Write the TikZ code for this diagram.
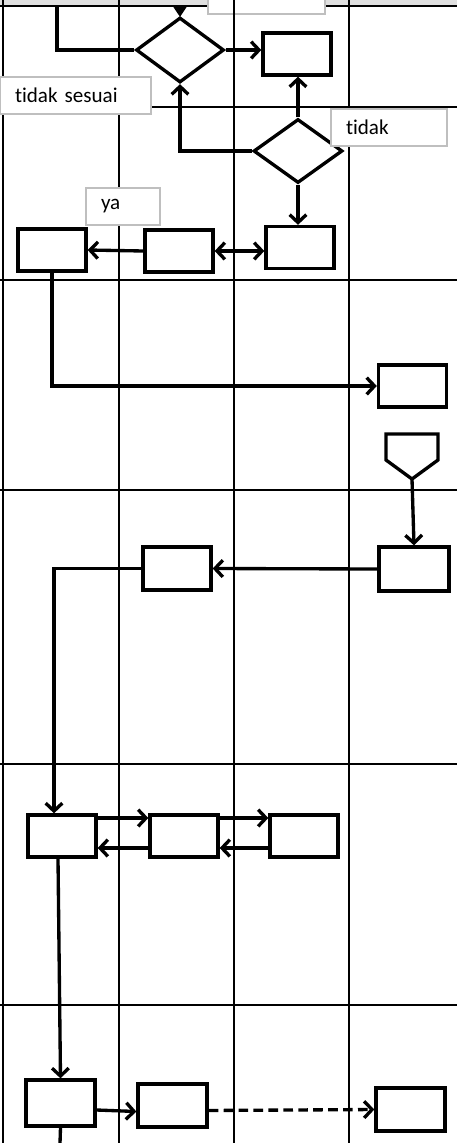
\documentclass[tikz,border=0pt]{standalone}
\usepackage{fontspec}
\setmainfont[Ligatures={NoCommon,NoRare,NoContextual}]{Carlito}
\usepackage{tikz}
\usetikzlibrary{arrows.meta, shapes.geometric, calc}
\tikzset{>={Straight Barb[length=4.5pt,width=9.5pt]}}

\begin{document}
\begin{tikzpicture}[x=0.02cm, y=-0.02cm, line width=1.9pt,
    box/.style={draw, rectangle, minimum width=1.36cm, minimum height=0.84cm, inner sep=0pt},
    cek/.style={draw, diamond, inner sep=0pt, minimum width=1.76cm, minimum height=1.3cm},
    lane/.style={line width=1.2pt},
    lbl/.style={draw=black!25, line width=0.6pt, fill=white, inner xsep=0.3cm, inner ysep=0pt,
      minimum height=0.74cm, align=left, font=\fontsize{12}{14}\selectfont}]
  \useasboundingbox (0,0) rectangle (457,1143);
  % arrow coming in from the previous page
  \draw[-{Triangle[length=0.24cm,width=0.3cm]}] (180,-20) -- (180,17);
  % header band and lanes
  \fill[black!12] (0,0) rectangle (457,6);
  \draw[lane] (0,6) -- (457,6);
  \node[lbl, minimum width=2.34cm] (lblatas) at (266.5,-4.5) {};
  \foreach \x in {3,119,234,349} \draw[lane] (\x,0) -- (\x,1143);
  \foreach \y in {107,280,490,764,1005} \draw[lane] (0,\y) -- (457,\y);

  % decisions
  \node[cek] (d1) at (180,50) {};
  \node[cek, minimum width=1.78cm, minimum height=1.28cm] (d2) at (298,151) {};
  % processes
  \node[box] (r1) at (297,54) {};
  \node[box] (r2) at (300,247.5) {};
  \node[box] (r3) at (179,251) {};
  \node[box] (r4) at (52,250) {};
  \node[box] (r5) at (412.5,386) {};
  \node[box, minimum width=1.4cm, minimum height=0.88cm] (r6) at (414,569) {};
  \node[box, minimum height=0.86cm] (r7) at (177,568.5) {};
  \node[box] (r8) at (62,836) {};
  \node[box] (r9) at (184,836) {};
  \node[box] (r10) at (304,836) {};
  \node[box, minimum width=1.38cm, minimum height=0.92cm] (r11) at (60.5,1103) {};
  \node[box, minimum width=1.38cm, minimum height=0.86cm] (r12) at (172.5,1105.5) {};
  \node[box, minimum width=1.38cm, minimum height=0.86cm] (r13) at (410.5,1109.5) {};
  % off-page connector
  \draw (386,434) -- (438,434) -- (438,460) -- (412,479) -- (386,460) -- cycle;
  \coordinate (hal) at (412,479);

  % connectors
  \draw (57,6) |- (d1.west);
  \draw[->] (d1.east) -- (d1.east -| r1.west);
  \draw[->] (d2.north) -- (d2.north |- r1.south);
  \draw[->] (d2.west) -| (d1.south);
  \draw[->] (d2.south) -- (d2.south |- r2.north);
  \draw[<->] (r3.east) -- (r3.east -| r2.west);
  \draw[->] (r3.west) -- (r4.east);
  \draw[->] (r4.south) |- (r5.west);
  \draw[->] (hal) -- (r6.north);
  \draw[->] (r6.west) -- (r7.east);
  \draw[->] (r7.west) -| ([xshift=-0.16cm]r8.north);
  \draw[->] ([yshift=0.36cm]r8.east) -- ([yshift=0.36cm]r9.west);
  \draw[->] ([yshift=-0.24cm]r9.west) -- ([yshift=-0.24cm]r8.east);
  \draw[->] ([yshift=0.36cm]r9.east) -- ([yshift=0.36cm]r10.west);
  \draw[->] ([yshift=-0.24cm]r10.west) -- ([yshift=-0.24cm]r9.east);
  \draw[->] ([xshift=-0.08cm]r8.south) -- (r11.north);
  \draw[->] ([yshift=-0.14cm]r11.east) -- ([yshift=-0.12cm]r12.west);
  \draw[->, dash pattern=on 5.5pt off 3pt] ([yshift=-0.1cm]r12.east) -- (r13.west);
  \draw (r11.south) -- (60,1143);

  % labels
  \node[lbl, text width=2.42cm] (lblsesuai) at (75.5,95.5) {tidak sesuai};
  \node[lbl, text width=1.72cm] (lbltidak) at (389,127.5) {tidak};
  \node[lbl, text width=0.88cm] (lblya) at (123,206.5) {ya};
\end{tikzpicture}
\end{document}
